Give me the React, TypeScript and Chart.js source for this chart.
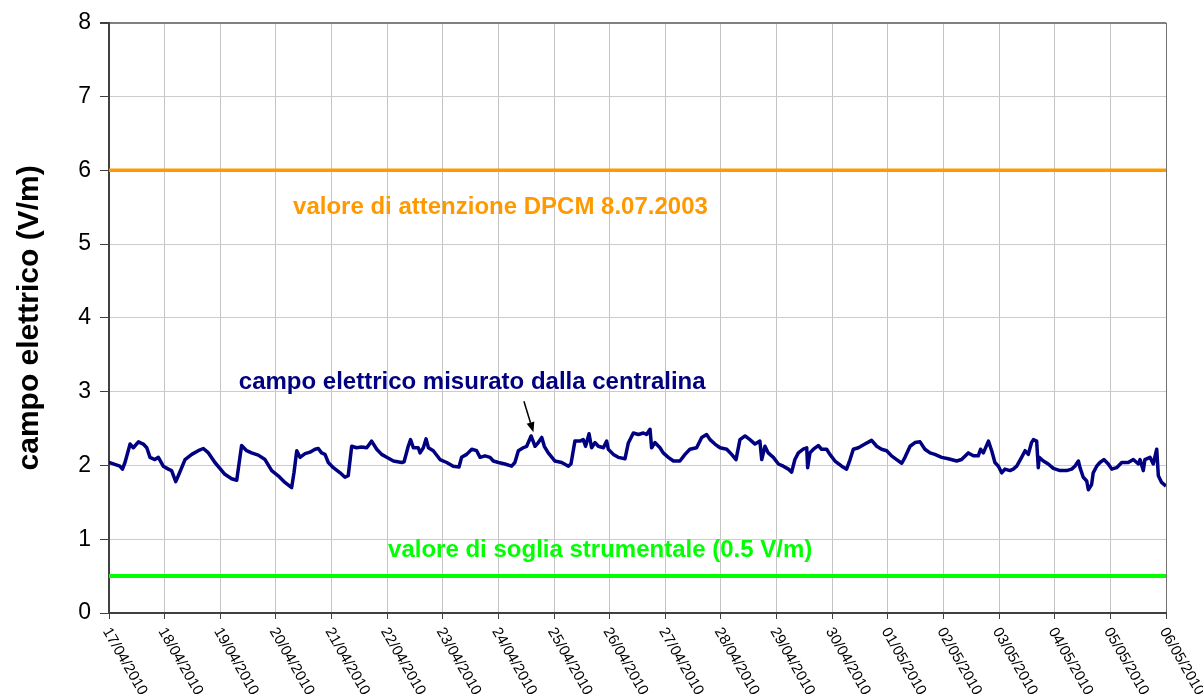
import React, { useEffect, useRef } from 'react';
import { Chart, registerables } from 'chart.js';

Chart.register(...registerables);

const FONT = "'Liberation Sans', Arial, Helvetica, sans-serif";

const dateLabels = [
  '17/04/2010', '18/04/2010', '19/04/2010', '20/04/2010', '21/04/2010',
  '22/04/2010', '23/04/2010', '24/04/2010', '25/04/2010', '26/04/2010',
  '27/04/2010', '28/04/2010', '29/04/2010', '30/04/2010', '01/05/2010',
  '02/05/2010', '03/05/2010', '04/05/2010', '05/05/2010', '06/05/2010',
];
const HOURS_PER_DAY = 24;
const yMin = 0;
const yMax = 8;
const yStep = 1;

// hours elapsed since 17/04/2010 00:00
const sampleHours = [
  0, 4.7, 5.8, 6.9, 9.1, 10.5, 12.7, 14.8, 16.3, 17.7, 19.8, 21.3, 23.4, 25.6, 27.0, 28.8, 29.9,
  32.8, 35.7, 38.5, 40.7, 42.9, 45.7, 50.0, 52.9, 55.1, 57.2, 59.4, 61.5, 64.4, 67.3, 70.2, 73.0,
  75.9, 78.8, 79.8, 81.0, 82.4, 84.6, 86.7, 88.9, 90.3, 91.7, 93.2, 94.6, 96.8, 99.7, 101.8, 103.2,
  104.7, 106.8, 109.0, 111.2, 113.3, 115.5, 117.6, 119.8, 122.7, 126.3, 127.3, 129.1, 130.1, 131.3,
  133.4, 134.2, 135.6, 136.8, 137.8, 139.9, 142.8, 145.7, 148.5,
  151.0, 152.1, 154.3, 156.5, 158.6, 160.1, 162.2, 164.4, 165.8, 168.0, 170.8, 173.7, 175.1, 176.6,
  178.7, 180.2, 182.1, 183.8, 185.2, 186.7, 187.8, 189.5, 192.4, 195.3, 198.2, 199.3, 201.0, 203.2,
  204.6, 205.6, 207.1, 208.2, 209.7, 211.1, 213.3, 214.7, 215.4, 217.6, 219.7, 222.6,
  224.0, 226.2, 228.4, 230.5, 231.9, 233.4, 234.1, 235.5, 237.7, 239.1, 241.3, 243.5, 246.3, 248.5,
  250.6, 253.5, 255.7, 257.8, 259.3, 261.4, 263.6, 266.5, 268.6, 270.5, 272.2, 274.4, 276.5, 278.7,
  280.8, 281.6, 283.0, 284.4, 286.6, 288.8, 290.9, 293.1, 294.5, 295.9, 297.4, 299.5,
  301.0, 301.4, 302.4, 303.9, 306.0, 307.4, 309.6, 311.0, 313.2, 316.1, 318.2, 319.7, 321.1, 323.3,
  326.1, 329.0, 331.2, 333.3, 335.5, 337.6, 339.8, 342.0, 343.4, 345.6, 347.7, 349.9, 352.0, 354.2,
  356.3, 359.2, 362.1, 365.7, 367.8, 370.7, 372.9, 375.0,
  376.0, 377.2, 379.4, 380.8, 382.2, 383.7, 385.1, 386.5, 388.7, 390.1, 391.6, 393.7, 395.2, 396.6,
  398.0, 398.8, 400.2, 400.9, 401.3, 403.1, 405.2, 407.4, 410.3, 413.1, 415.3, 416.7, 418.2, 418.9,
  420.3, 421.8, 422.5, 423.9, 424.6, 426.1, 427.5, 429.2, 431.1, 432.6, 434.7, 436.9, 439.7, 441.9,
  444.1, 444.8, 446.2, 446.9, 449.1, 450.5, 452.0, 452.7, 454.1, 456.0,
];

// electric field (V/m)
const fieldValues = [
  2.04, 1.99, 1.95, 2.04, 2.29, 2.24, 2.32, 2.29, 2.24, 2.11, 2.08, 2.11, 1.99, 1.95, 1.93, 1.78, 1.86,
  2.08, 2.15, 2.20, 2.23, 2.17, 2.04, 1.88, 1.82, 1.80, 2.27, 2.20, 2.17, 2.14, 2.08, 1.93, 1.86,
  1.77, 1.70, 1.90, 2.20, 2.11, 2.16, 2.18, 2.22, 2.23, 2.17, 2.15, 2.04, 1.97, 1.90, 1.84, 1.86,
  2.26, 2.24, 2.25, 2.24, 2.33, 2.22, 2.15, 2.11, 2.06, 2.04, 2.05, 2.26, 2.35, 2.24,
  2.24, 2.17, 2.24, 2.36, 2.24, 2.20, 2.08, 2.04, 1.99,
  1.98, 2.11, 2.15, 2.22, 2.20, 2.11, 2.13, 2.11, 2.06, 2.04, 2.02, 1.99, 2.04, 2.20,
  2.24, 2.26, 2.40, 2.26, 2.31, 2.38, 2.26, 2.17, 2.06, 2.04, 1.99, 2.02, 2.33, 2.33,
  2.35, 2.26, 2.43, 2.24, 2.31, 2.26, 2.24, 2.33, 2.22, 2.15, 2.11, 2.09,
  2.30, 2.44, 2.42, 2.44, 2.42, 2.49, 2.24, 2.31, 2.24, 2.17, 2.11, 2.06, 2.06, 2.15,
  2.22, 2.24, 2.38, 2.42, 2.35, 2.29, 2.24, 2.22, 2.15, 2.08, 2.35, 2.40, 2.35, 2.29,
  2.33, 2.08, 2.26, 2.17, 2.11, 2.02, 1.99, 1.95, 1.91, 2.08, 2.17, 2.22,
  2.24, 1.97, 2.17, 2.22, 2.27, 2.22, 2.22, 2.15, 2.06, 1.99, 1.95, 2.08, 2.22, 2.24,
  2.29, 2.34, 2.26, 2.22, 2.20, 2.13, 2.08, 2.03, 2.11, 2.26, 2.31, 2.32, 2.22, 2.17,
  2.15, 2.11, 2.09, 2.06, 2.08, 2.17, 2.13, 2.13,
  2.22, 2.17, 2.33, 2.20, 2.04, 1.99, 1.90, 1.95, 1.93, 1.95, 1.99, 2.11, 2.20, 2.15,
  2.31, 2.35, 2.33, 1.97, 2.11, 2.06, 2.02, 1.96, 1.93, 1.93, 1.95, 1.99, 2.06, 1.97,
  1.84, 1.79, 1.67, 1.74, 1.90, 1.99, 2.04, 2.08, 2.02, 1.95, 1.97, 2.04, 2.04, 2.08,
  2.02, 2.08, 1.93, 2.08, 2.11, 2.02, 2.22, 1.86, 1.77, 1.72,
];

const attentionLevel = 6;
const thresholdLevel = 0.5;

const noteTexts = [
  'valore di attenzione DPCM 8.07.2003',
  'campo elettrico misurato dalla centralina',
  'valore di soglia strumentale (0.5 V/m)',
];
const noteColors = ['#FF9900', '#000080', '#00FF00'];
const noteHours = [79.4, 56.0, 120.4];
const noteValues = [5.41, 3.04, 0.76];
const arrowFrom = [179.0, 2.87];
const arrowTo = [183.1, 2.45];

const overlayPlugin = {
  id: 'overlay',
  afterDraw(chart: any) {
    const { ctx } = chart;
    const xs = chart.scales.x;
    const ys = chart.scales.y;
    ctx.save();

    // rotated date labels
    ctx.fillStyle = '#000000';
    ctx.font = `15px ${FONT}`;
    ctx.textAlign = 'left';
    ctx.textBaseline = 'middle';
    dateLabels.forEach((lab, i) => {
      const px = xs.getPixelForValue(i * HOURS_PER_DAY);
      ctx.save();
      ctx.translate(px - 3, ys.bottom + 16);
      ctx.rotate((60 * Math.PI) / 180);
      ctx.fillText(lab, 0, 0);
      ctx.restore();
    });

    // annotation texts
    ctx.font = `bold 24px ${FONT}`;
    ctx.textBaseline = 'alphabetic';
    noteTexts.forEach((t, i) => {
      ctx.fillStyle = noteColors[i];
      ctx.fillText(t, xs.getPixelForValue(noteHours[i]), ys.getPixelForValue(noteValues[i]));
    });

    // arrow
    const x1 = xs.getPixelForValue(arrowFrom[0]);
    const y1 = ys.getPixelForValue(arrowFrom[1]);
    const x2 = xs.getPixelForValue(arrowTo[0]);
    const y2 = ys.getPixelForValue(arrowTo[1]);
    const ang = Math.atan2(y2 - y1, x2 - x1);
    const headLen = 10;
    const headW = 4;
    ctx.strokeStyle = '#000000';
    ctx.fillStyle = '#000000';
    ctx.lineWidth = 1.5;
    ctx.beginPath();
    ctx.moveTo(x1, y1);
    ctx.lineTo(x2 - headLen * Math.cos(ang), y2 - headLen * Math.sin(ang));
    ctx.stroke();
    ctx.beginPath();
    ctx.moveTo(x2, y2);
    ctx.lineTo(
      x2 - headLen * Math.cos(ang) + headW * Math.sin(ang),
      y2 - headLen * Math.sin(ang) - headW * Math.cos(ang)
    );
    ctx.lineTo(
      x2 - headLen * Math.cos(ang) - headW * Math.sin(ang),
      y2 - headLen * Math.sin(ang) + headW * Math.cos(ang)
    );
    ctx.closePath();
    ctx.fill();

    ctx.restore();
  },
};

export default function App() {
  const canvasRef = useRef<HTMLCanvasElement | null>(null);

  useEffect(() => {
    if (!canvasRef.current) return;
    const n = Math.min(sampleHours.length, fieldValues.length);
    const measured = [];
    for (let i = 0; i < n; i++) measured.push({ x: sampleHours[i], y: fieldValues[i] });
    const xMax = (dateLabels.length - 1) * HOURS_PER_DAY;

    const chart = new Chart(canvasRef.current, {
      type: 'line',
      data: {
        datasets: [
          {
            label: 'valore di attenzione',
            data: [{ x: 0, y: attentionLevel }, { x: xMax, y: attentionLevel }],
            borderColor: '#FF9900',
            borderWidth: 3.5,
            pointRadius: 0,
          },
          {
            label: 'soglia strumentale',
            data: [{ x: 0, y: thresholdLevel }, { x: xMax, y: thresholdLevel }],
            borderColor: '#00FF00',
            borderWidth: 4,
            pointRadius: 0,
          },
          {
            label: 'campo elettrico',
            data: measured,
            borderColor: '#000080',
            borderWidth: 3.5,
            pointRadius: 0,
            tension: 0,
            borderJoinStyle: 'round',
          },
        ],
      },
      options: {
        animation: false,
        responsive: false,
        layout: { padding: { top: 20, right: 37, left: 0, bottom: 0 } },
        plugins: { legend: { display: false }, tooltip: { enabled: false } },
        scales: {
          x: {
            type: 'linear',
            min: 0,
            max: xMax,
            afterFit: (s: any) => { s.height = 87; },
            ticks: { stepSize: HOURS_PER_DAY, autoSkip: false, maxRotation: 0, minRotation: 0, callback: () => '' },
            grid: {
              color: (c: any) => (c.tick && c.tick.value === xMax ? '#707070' : '#c4c4c4'),
              lineWidth: 1,
              tickLength: 6,
              tickColor: '#404040',
            },
            border: { display: true, color: '#404040', width: 2 },
          },
          y: {
            min: yMin,
            max: yMax,
            afterFit: (s: any) => { s.width = 109; },
            ticks: { stepSize: yStep, color: '#000000', font: { family: FONT, size: 23 }, padding: 9 },
            grid: {
              color: (c: any) => (c.tick && c.tick.value === yMax ? '#808080' : '#cccccc'),
              lineWidth: (c: any) => (c.tick && c.tick.value === yMax ? 2 : 1),
              tickLength: 9,
              tickColor: '#404040',
            },
            border: { display: true, color: '#404040', width: 2 },
            title: {
              display: true,
              text: 'campo elettrico (V/m)',
              color: '#000000',
              font: { family: FONT, size: 30, weight: 'bold' },
              padding: { top: 12, bottom: 0 },
            },
          },
        },
      },
      plugins: [overlayPlugin],
    });
    return () => chart.destroy();
  }, []);

  return (
    <div style={{ position: 'fixed', left: 0, top: 0, width: 1203, height: 700, background: '#ffffff' }}>
      <canvas ref={canvasRef} width={1203} height={700} style={{ display: 'block' }} />
    </div>
  );
}
